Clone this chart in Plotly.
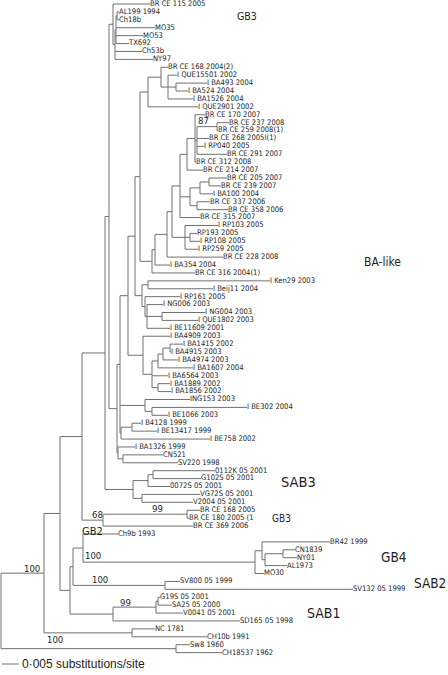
import plotly.graph_objects as go

# ---------------- DATA ----------------
leaf_labels = [
    "BR CE 115 2005", "AL199 1994", "Ch18b", "MO35", "MO53", "TX692", "Ch53b", "NY97",
    "BR CE 168 2004(2)", "I QUE15501 2002", "I BA493 2004", "I BA524 2004", "I BA1526 2004",
    "I QUE2901 2002", "BR CE 170 2007", "BR CE 237 2008", "BR CE 259 2008(1)",
    "BR CE 268 2005I(1)", "I RP040 2005", "BR CE 291 2007", "BR CE 312 2008", "BR CE 214 2007",
    "BR CE 205 2007", "BR CE 239 2007", "I BA100 2004", "BR CE 337 2006", "BR CE 358 2006",
    "BR CE 315 2007", "I RP103 2005", "RP193 2005", "I RP108 2005", "I RP259 2005",
    "BR CE 228 2008", "I BA354 2004", "BR CE 316 2004(1)", "I Ken29 2003", "I Beij11 2004",
    "I RP161 2005", "I NG006 2003", "I NG004 2003", "I QUE1802 2003", "I BE11609 2001",
    "I BA4909 2003", "I BA1415 2002", "I BA4915 2003", "I BA4974 2003", "I BA1607 2004",
    "I BA6564 2003", "I BA1889 2002", "I BA1856 2002", "ING153 2003", "I BE302 2004",
    "I BE1066 2003", "I B4128 1999", "I BE13417 1999", "I BE758 2002", "I BA1326 1999",
    "CN521", "SV220 1998", "0112K 05 2001", "G102S 05 2001", "0072S 05 2001",
    "VG72S 05 2001", "V2004 05 2001", "BR CE 168 2005", "BR CE 180 2005 (1",
    "BR CE 369 2006", "Ch9b 1993", "BR42 1999", "CN1839", "NY01", "AL1973", "MO30",
    "SV800 05 1999", "SV132 05 1999", "G19S 05 2001", "SA25 05 2000", "V0041 05 2001",
    "SD165 05 1998", "NC 1781", "CH10b 1991", "Sw8 1960", "CH18537 1962",
]

# Sub-trees in Newick form: leaves are indices into leaf_labels,
# branch lengths in 1e-3 substitutions/site, named internal nodes carry bootstrap support.
gb3_top = "(0:11.1,(((1:0.6,2:0.6):0.3,3:11.7,4:8.1,5:3.9):0.3,6:8.1,7:11.4):0.6)"
que_group = "((8:2.1,(9:2.7,(10:9.3,11:3.6):2.4,12:7.5):2.1):3.9,13:15.0)"
ce_2007 = "((14:3.0,((15:3.6,16:0.3)ceCore:6.0,17:3.6,18:2.1,19:9.0):0.6,20:0.3):2.4,21:4.8)"
ce_2006 = "(((22:5.4,23:3.6):2.7,24:3.9):3.0,(25:3.9,26:9.3):2.1)"
rp_group = "(28:9.9,(29:2.1,30:3.0):1.5,31:3.9)"
ken_group = "((35:36.6,36:19.5):1.8,(37:10.5,(38:4.8,(39:12.9,40:10.8):4.5,41:6.9):0.6):0.9)"
ba_cluster = "(42:8.1,((((43:3.9,44:0.3):2.1,45:4.5):1.5,46:10.5):1.8,47:4.8,(48:3.6,49:3.9):1.8):2.7)"
ng153_group = "(50:13.5,(51:28.5,52:4.8):2.1)"
be_group = "((53:2.7,54:7.5):3.3,55:26.7)"
cn_group = "(56:5.1,(57:12.0,58:16.5):1.5)"
sab3 = "(((59:18.6,60:14.4):1.5,61:6.6):4.5,(62:17.4,63:15.3):2.7)"
gb3_low = "((64:3.9,65:0.6)gb3Core:25.2,66:27.0)"
gb4 = "((68:20.4,((69:3.6,70:4.2):5.4,71:6.6):0.9):2.1,72:2.7)"
sab2 = "(73:4.5,74:56.4)"
sab1 = "(((75:0.6,76:4.2):0.6,77:8.1)sab1Core:12.9,78:38.1)"
nc_group = "(79:6.9,80:22.5)"
swine = "(81:4.2,82:13.8)"

bootstrap = {"ceCore": 87, "gb3Core": 99, "gb3Low": 68, "gb4Clade": 100,
             "sab2Clade": 100, "sab1Core": 99, "ncClade": 100, "rootA": 100}

# backbone assembly
n180 = f"({ce_2007}:2.1,{ce_2006}:3.0,27:6.0)"
n167 = f"(({n180}:2.4,{rp_group}:3.9):1.5,32:16.8)"
n152 = f"(({n167}:3.6,33:4.5):0.9,34:12.9)"
n140 = f"({que_group}:2.4,{n152}:3.6)"
n135 = f"({n140}:1.5,{ken_group}:2.1)"
n128 = f"({n135}:2.1,{ba_cluster}:4.5)"
n120 = f"({n128}:2.4,{ng153_group}:7.5,{be_group}:0.3)"
n117 = f"({n120}:0.9,{cn_group}:0.3)"
n109 = f"({gb3_top}:1.2,{n117}:2.4)"
n105 = f"({n109}:1.2,{sab3}:8.4)"
n82 = f"({n105}:6.9,{gb3_low}gb3Low:6.3)"
n83 = f"(67:10.5,{gb4}gb4Clade:51.6)"
n73 = f"({n83}:3.0,{sab2}sab2Clade:27.6)"
n70 = f"({n73}:0.9,{sab1}:12.9)"
n60 = f"({n82}:6.6,{n70}:3.0)"
n44 = f"({n60}:4.8,{nc_group}ncClade:26.4)"
tree_newick = f"({n44}rootA:12.9,{swine}:52.5);"

scale_bar_value = 5.0  # 0.005 substitutions/site

# ---------------- STYLE ----------------
LINE_COLOR = "#707070"
TEXT_COLOR = "#1e1e1e"
NARROW = "Liberation Sans Narrow, Arial Narrow, DejaVu Sans Condensed, sans-serif"
ROW_PX = 7.91
W, H = 448, 675
X_PER_PX = 0.3
x_range = [-1 * X_PER_PX, (W - 1) * X_PER_PX]
y_range = [(H - 4) / ROW_PX, -4 / ROW_PX]

bs_place = {"ceCore": (0.33, 6), "gb3Core": (0.65, 6), "gb3Low": (0.74, 6),
            "gb4Clade": (0.06, 7), "sab2Clade": (0.29, 6), "sab1Core": (0.28, 5),
            "ncClade": (0.12, -7), "rootA": (0.73, 5)}

clade_labels = [("GB3", 70.2, 1.5, 10.5), ("BA-like", 108.3, 32.6, 12), ("SAB3", 83.4, 60.4, 14.5),
                ("GB3", 80.7, 65.0, 10), ("GB2", 23.7, 66.75, 11), ("GB4", 113.4, 69.9, 13.5),
                ("SAB2", 123.3, 73.2, 13.5), ("SAB1", 91.2, 77.0, 14)]


# ---------------- PARSE ----------------
def parse(s):
    pos = 0

    def node():
        nonlocal pos
        children = []
        if s[pos] == "(":
            pos += 1
            while True:
                children.append(node())
                if s[pos] == ",":
                    pos += 1
                    continue
                if s[pos] == ")":
                    pos += 1
                    break
        start = pos
        while pos < len(s) and s[pos] not in ":,();":
            pos += 1
        label = s[start:pos]
        length = 0.0
        if pos < len(s) and s[pos] == ":":
            pos += 1
            start = pos
            while pos < len(s) and s[pos] not in ",();":
                pos += 1
            length = float(s[start:pos])
        return {"children": children, "label": label, "len": length}

    return node()


root = parse(tree_newick)


def layout(n, x0):
    n["x"] = x0 + n["len"]
    if n["children"]:
        for c in n["children"]:
            layout(c, n["x"])
        n["y"] = (n["children"][0]["y"] + n["children"][-1]["y"]) / 2
    else:
        n["y"] = float(int(n["label"]))


root["len"] = 0.0
layout(root, 0.0)

lx, ly = [], []
tips = []
bs_notes = []


def draw(n, parent_x):
    if parent_x is not None:
        lx.extend([parent_x, n["x"], None])
        ly.extend([n["y"], n["y"], None])
    if n["children"]:
        lx.extend([n["x"], n["x"], None])
        ly.extend([n["children"][0]["y"], n["children"][-1]["y"], None])
        if n["label"] in bootstrap:
            frac, shift = bs_place[n["label"]]
            bs_notes.append((bootstrap[n["label"]], parent_x + frac * (n["x"] - parent_x), n["y"], shift))
        for c in n["children"]:
            draw(c, n["x"])
    else:
        tips.append((n["x"], n["y"], leaf_labels[int(n["label"])]))


draw(root, None)

fig = go.Figure()
fig.add_trace(go.Scatter(x=lx, y=ly, mode="lines", line=dict(color=LINE_COLOR, width=1),
                         hoverinfo="skip"))
fig.add_trace(go.Scatter(x=[t[0] for t in tips], y=[t[1] for t in tips],
                         text=[t[2] for t in tips], mode="text", textposition="middle right",
                         textfont=dict(family=NARROW, size=7.6, color=TEXT_COLOR),
                         hoverinfo="skip"))

annotations = []
for val, bx, by, shift in bs_notes:
    annotations.append(dict(x=bx, y=by, text=str(val), showarrow=False, xanchor="center",
                            yanchor="middle", yshift=shift,
                            font=dict(family=NARROW, size=9.5, color=TEXT_COLOR)))
for txt, cx, cy, fs in clade_labels:
    annotations.append(dict(x=cx, y=cy, text=txt, showarrow=False, xanchor="left",
                            yanchor="middle", font=dict(family=NARROW, size=fs, color=TEXT_COLOR)))

# scale bar
sb_y = (664 - 4) / ROW_PX
sb_x0 = 0.3
fig.add_shape(type="line", x0=sb_x0, x1=sb_x0 + scale_bar_value, y0=sb_y, y1=sb_y,
              line=dict(color=LINE_COLOR, width=1))
annotations.append(dict(x=sb_x0 + scale_bar_value + 0.3, y=sb_y, text="0·005 substitutions/site",
                        showarrow=False, xanchor="left", yanchor="middle",
                        font=dict(family="Liberation Sans, Arial, sans-serif", size=12,
                                  color=TEXT_COLOR)))

fig.update_layout(
    width=W, height=H, margin=dict(l=0, r=0, t=0, b=0),
    paper_bgcolor="white", plot_bgcolor="white", showlegend=False,
    xaxis=dict(range=x_range, visible=False, fixedrange=True),
    yaxis=dict(range=y_range, visible=False, fixedrange=True),
    annotations=annotations,
)

fig.write_html("out.html", config={"displayModeBar": False},
               post_script="document.body.style.margin='0px';document.body.style.overflow='hidden';")
